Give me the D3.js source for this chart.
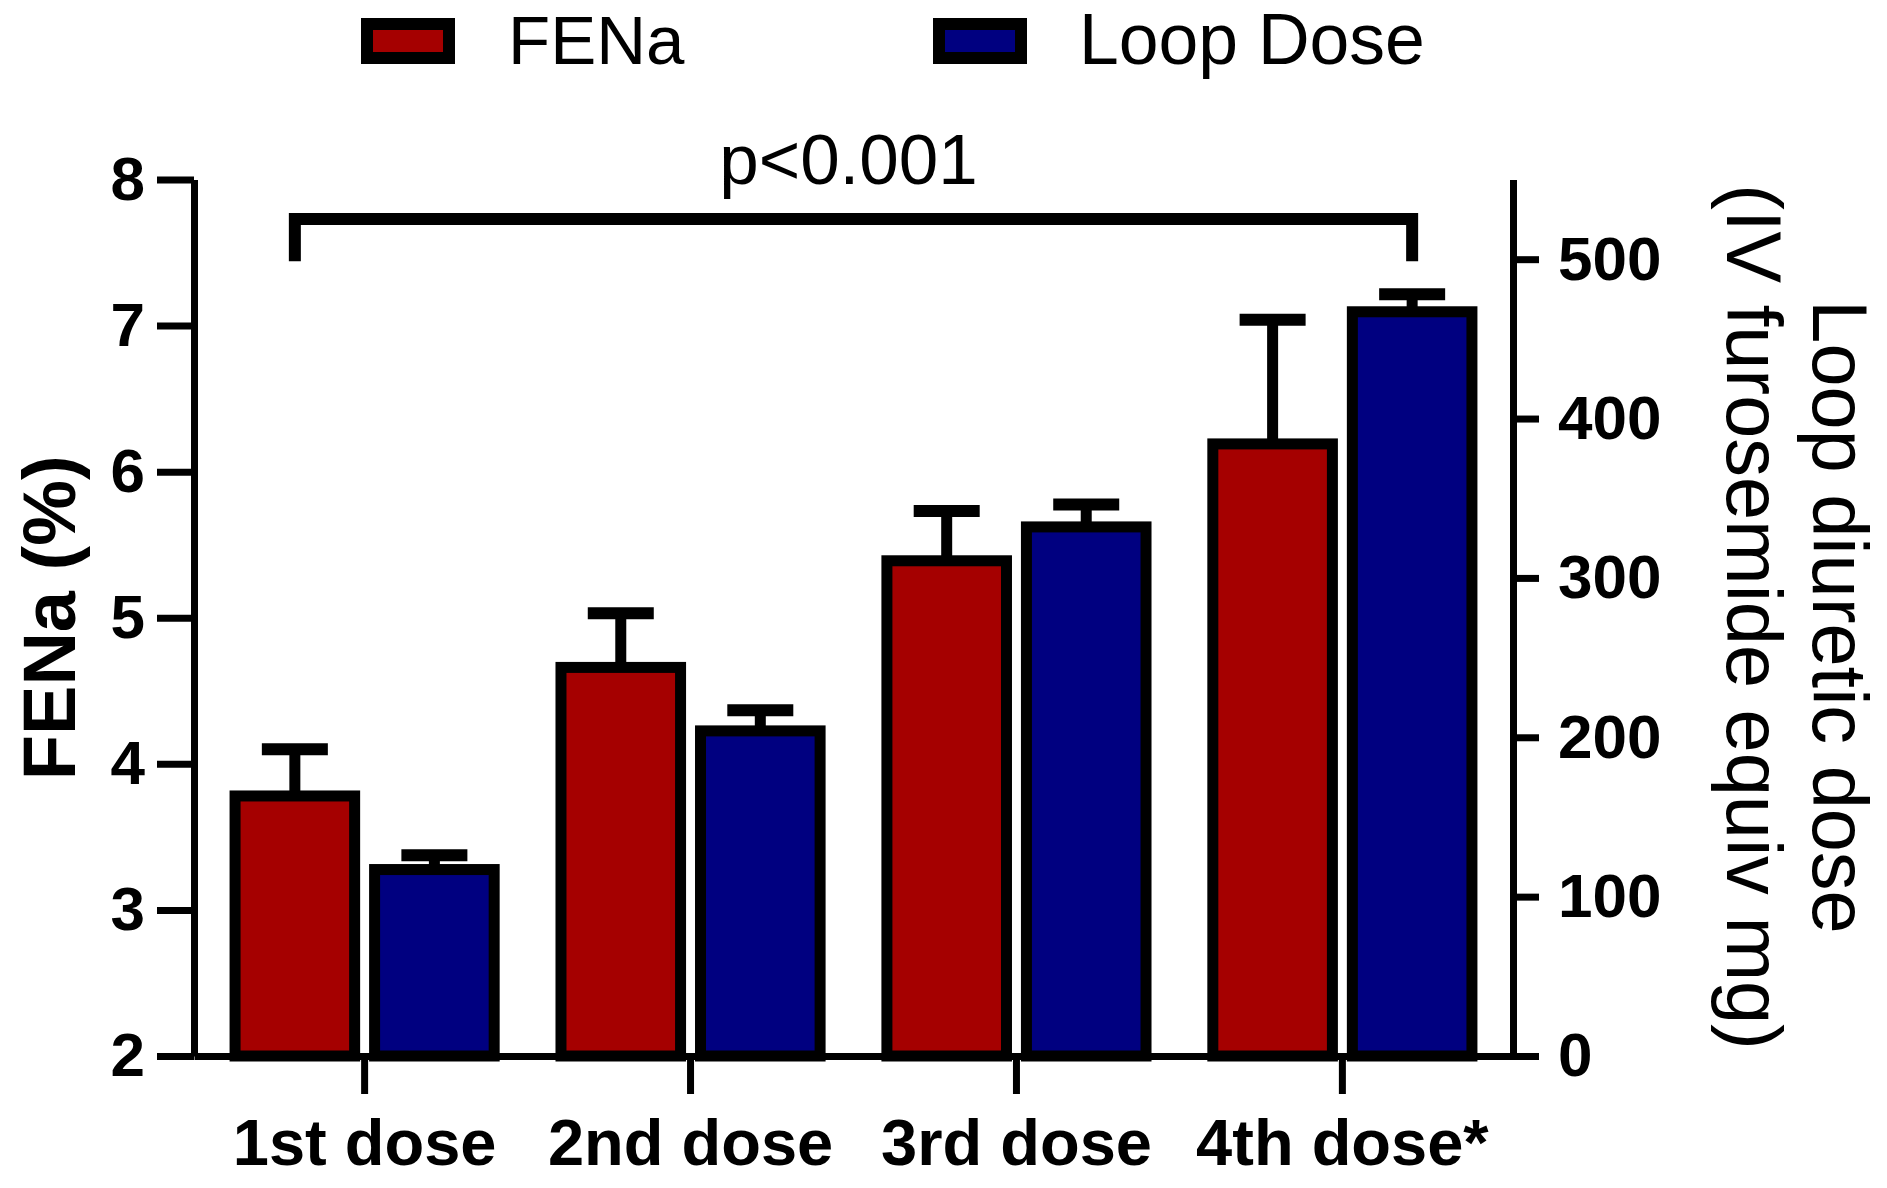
<!DOCTYPE html>
<html>
<head>
<meta charset="utf-8">
<script src="https://cdn.jsdelivr.net/npm/d3@7"></script>
<style>
  html, body { margin: 0; padding: 0; background: #ffffff; }
  svg { display: block; }
  text { font-family: "Liberation Sans", Arial, Helvetica, sans-serif; fill: #000; }
</style>
</head>
<body>
<svg id="chart" width="1887" height="1188"></svg>
<script>
// ---- Data ----
const categories = ["1st dose", "2nd dose", "3rd dose", "4th dose*"];
const seriesNames = ["FENa", "Loop Dose"];
const fenaMean = [3.78, 4.66, 5.39, 6.19];
const fenaErr  = [0.32, 0.37, 0.34, 0.85];
const loopMean = [117, 204, 332, 467];
const loopErr  = [9, 13, 14, 11];
const leftTicks  = [2, 3, 4, 5, 6, 7, 8];
const rightTicks = [0, 100, 200, 300, 400, 500];
const leftTitle = "FENa (%)";
const rightTitleLines = ["Loop diuretic dose", "(IV furosemide equiv mg)"];
const pLabel = "p<0.001";

// ---- Layout / style ----
const W = 1887, H = 1188;
const plotLeft = 194, plotRight = 1513, plotTop = 179.5, plotBottom = 1056;
const colors = { "FENa": "#a50000", "Loop Dose": "#000080" };
const barStroke = 11;
const axisStroke = 7;

const svg = d3.select("#chart");
svg.append("rect").attr("width", W).attr("height", H).attr("fill", "#fff");

const x0 = d3.scaleBand().domain(categories).range([plotLeft, plotRight])
  .paddingInner(0.205).paddingOuter(0.126);
const x1 = d3.scaleBand().domain(seriesNames).range([0, x0.bandwidth()])
  .paddingInner(0.143);
const yL = d3.scaleLinear().domain([2, 8]).range([plotBottom, plotTop]);
const yR = d3.scaleLinear().domain([0, 550]).range([plotBottom, plotTop]);

// Build table
const rows = categories.map((c, i) => ({
  cat: c,
  bars: [
    { s: "FENa", v: fenaMean[i], e: fenaErr[i], y: yL, base: 2 },
    { s: "Loop Dose", v: loopMean[i], e: loopErr[i], y: yR, base: 0 }
  ]
}));

// ---- Bars ----
const groups = svg.append("g").selectAll("g").data(rows).join("g")
  .attr("transform", d => `translate(${x0(d.cat)},0)`);

groups.selectAll("rect").data(d => d.bars).join("rect")
  .attr("x", d => x1(d.s))
  .attr("y", d => d.y(d.v))
  .attr("width", x1.bandwidth())
  .attr("height", d => d.y(d.base) - d.y(d.v))
  .attr("fill", d => colors[d.s])
  .attr("stroke", "#000")
  .attr("stroke-width", barStroke);

// ---- Error bars (upper only) ----
const capHalf = 33;
const eb = groups.selectAll("g.err").data(d => d.bars).join("g").attr("class", "err");
eb.append("line")
  .attr("x1", d => x1(d.s) + x1.bandwidth() / 2)
  .attr("x2", d => x1(d.s) + x1.bandwidth() / 2)
  .attr("y1", d => d.y(d.v))
  .attr("y2", d => d.y(d.v + d.e))
  .attr("stroke", "#000").attr("stroke-width", 11);
eb.append("line")
  .attr("x1", d => x1(d.s) + x1.bandwidth() / 2 - capHalf)
  .attr("x2", d => x1(d.s) + x1.bandwidth() / 2 + capHalf)
  .attr("y1", d => d.y(d.v + d.e))
  .attr("y2", d => d.y(d.v + d.e))
  .attr("stroke", "#000").attr("stroke-width", 12);

// ---- Axes ----
function styleAxis(g, fontSize, bold) {
  g.selectAll("path.domain").attr("stroke", "#000").attr("stroke-width", axisStroke);
  g.selectAll(".tick line").attr("stroke", "#000").attr("stroke-width", axisStroke);
  g.selectAll(".tick text")
    .style("font-family", '"Liberation Sans", Arial, sans-serif')
    .style("font-size", fontSize + "px")
    .style("font-weight", bold ? "bold" : "normal")
    .attr("fill", "#000");
}

const xAxis = svg.append("g").attr("transform", `translate(0,${plotBottom})`)
  .call(d3.axisBottom(x0).tickSize(38).tickSizeOuter(0).tickPadding(25));
styleAxis(xAxis, 65, true);

const yAxisL = svg.append("g").attr("transform", `translate(${plotLeft},0)`)
  .call(d3.axisLeft(yL).tickValues(leftTicks).tickFormat(d3.format("d"))
    .tickSize(37).tickSizeOuter(0).tickPadding(12));
styleAxis(yAxisL, 62, true);

const yAxisR = svg.append("g").attr("transform", `translate(${plotRight},0)`)
  .call(d3.axisRight(yR).tickValues(rightTicks).tickFormat(d3.format("d"))
    .tickSize(26).tickSizeOuter(0).tickPadding(19));
styleAxis(yAxisR, 62, true);

// ---- Axis titles ----
svg.append("text")
  .attr("transform", `translate(75,${(plotTop + plotBottom) / 2}) rotate(-90)`)
  .attr("text-anchor", "middle")
  .style("font-size", "74px").style("font-weight", "bold")
  .text(leftTitle);

const rtX = [1813, 1727];
rightTitleLines.forEach((t, i) => {
  svg.append("text")
    .attr("transform", `translate(${rtX[i]},617) rotate(90)`)
    .attr("text-anchor", "middle")
    .style("font-size", "77.5px")
    .text(t);
});

// ---- Significance bracket ----
const xStart = x0(categories[0]) + x1("FENa") + x1.bandwidth() / 2;
const xEnd = x0(categories[3]) + x1("Loop Dose") + x1.bandwidth() / 2;
const yBar = yL(7.73), yLeg = yL(7.44);
svg.append("path")
  .attr("d", `M${xStart},${yLeg} V${yBar} H${xEnd} V${yLeg}`)
  .attr("fill", "none").attr("stroke", "#000").attr("stroke-width", 12)
  .attr("stroke-linejoin", "miter");
svg.append("text")
  .attr("x", (xStart + xEnd) / 2 - 5).attr("y", 184)
  .attr("text-anchor", "middle")
  .style("font-size", "71px")
  .text(pLabel);

// ---- Legend ----
const legendItems = [
  { s: "FENa", bx: 367, tx: 508, fs: 69 },
  { s: "Loop Dose", bx: 939, tx: 1079, fs: 71.5 }
];
const lg = svg.append("g").selectAll("g").data(legendItems).join("g");
lg.append("rect")
  .attr("x", d => d.bx).attr("y", 24).attr("width", 82).attr("height", 34)
  .attr("fill", d => colors[d.s]).attr("stroke", "#000").attr("stroke-width", 12);
lg.append("text")
  .attr("x", d => d.tx).attr("y", 64)
  .style("font-size", d => d.fs + "px")
  .text(d => d.s);
</script>
</body>
</html>
